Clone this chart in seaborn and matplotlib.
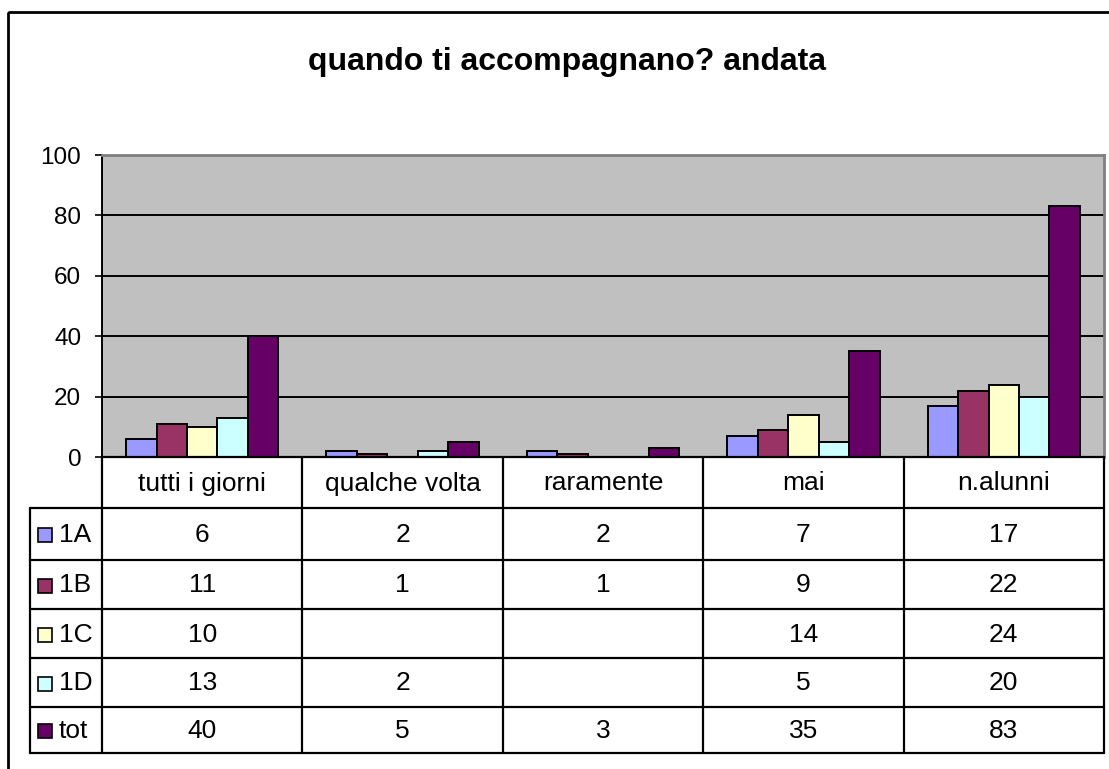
import matplotlib
matplotlib.use('Agg')
import matplotlib.pyplot as plt
from matplotlib.patches import Rectangle
import numpy as np
import pandas as pd
import seaborn as sns

categories = ['tutti i giorni', 'qualche volta', 'raramente', 'mai', 'n.alunni']
classes = ['1A', '1B', '1C', '1D', 'tot']
v_1a = [6, 2, 2, 7, 17]
v_1b = [11, 1, 1, 9, 22]
v_1c = [10, None, None, 14, 24]
v_1d = [13, 2, None, 5, 20]
v_tot = [40, 5, 3, 35, 83]
colors = ['#9999FF', '#993366', '#FFFFCC', '#CCFFFF', '#660066']
title = 'quando ti accompagnano? andata'

series = dict(zip(classes, [v_1a, v_1b, v_1c, v_1d, v_tot]))
rows = []
for cls, vals in series.items():
    for cat, v in zip(categories, vals):
        rows.append({'cat': cat, 'cls': cls, 'val': np.nan if v is None else v})
df = pd.DataFrame(rows)

sns.set_style('white')
plt.rcParams['font.family'] = ['Liberation Sans', 'DejaVu Sans']
plt.rcParams['text.color'] = 'black'
plt.rcParams['ytick.color'] = 'black'

W, H = 1109, 769
fig = plt.figure(figsize=(W / 100, H / 100), dpi=100)
fig.patch.set_facecolor('white')

# plot area in pixels
L, R, T, B = 102, 1104, 155, 457
ax = fig.add_axes([L / W, 1 - B / H, (R - L) / W, (B - T) / H])
sns.barplot(data=df.dropna(), x='cat', y='val', hue='cls', order=categories,
            hue_order=classes, palette=colors, width=0.76, gap=0,
            edgecolor='black', linewidth=1.4, errorbar=None, legend=False,
            saturation=1, ax=ax)
ax.set_facecolor('#C0C0C0')
ax.set_xlim(-0.5, 4.5)
ax.set_ylim(0, 100)
ax.set_yticks(range(0, 101, 20))
ax.set_xticks([])
ax.set_xlabel('')
ax.set_ylabel('')
ax.set_axisbelow(True)
ax.yaxis.grid(True, color='black', lw=1.4)
ax.tick_params(axis='y', direction='out', length=5, width=1.2, pad=10,
               labelsize=17.5, left=True, colors='black', labelcolor='black')
for s in ['top', 'right']:
    ax.spines[s].set_color('#808080')
    ax.spines[s].set_linewidth(2)
for s in ['left', 'bottom']:
    ax.spines[s].set_color('black')
    ax.spines[s].set_linewidth(1.4)

# overlay in pixel coordinates for title, frame and data table
ov = fig.add_axes([0, 0, 1, 1])
ov.set_xlim(0, W)
ov.set_ylim(H, 0)
ov.axis('off')
ov.add_patch(Rectangle((8, 12), 1200, 1000, fill=False, lw=2, ec='black'))
ov.text(567, 62, title, ha='center', va='center', fontsize=23,
        fontweight='bold', color='black')

cw = (R - L) / len(categories)
row_y = [508, 560, 609, 658, 707, 753]
tl = 30
lw = 1.6
fs = 19
# horizontal lines
ov.plot([L, R], [B, B], color='black', lw=lw)
for y in row_y:
    ov.plot([tl, R], [y, y], color='black', lw=lw)
# vertical lines
ov.plot([tl, tl], [row_y[0], row_y[-1]], color='black', lw=lw)
for i in range(len(categories) + 1):
    x = L + i * cw
    ov.plot([x, x], [B, row_y[-1]], color='black', lw=lw)

for i, cat in enumerate(categories):
    ov.text(L + (i + 0.5) * cw, (B + row_y[0]) / 2 + 1, cat, ha='center',
            va='center', fontsize=fs, color='black')

for r, cls in enumerate(classes):
    yc = (row_y[r] + row_y[r + 1]) / 2 + 1
    ov.add_patch(Rectangle((38, yc - 7), 14, 14, fc=colors[r], ec='black',
                           lw=1.2))
    ov.text(59, yc, cls, ha='left', va='center', fontsize=fs, color='black')
    for i, v in enumerate(series[cls]):
        if v is not None:
            ov.text(L + (i + 0.5) * cw, yc, str(v), ha='center',
                    va='center', fontsize=fs, color='black')

fig.savefig('out.png', dpi=100)
